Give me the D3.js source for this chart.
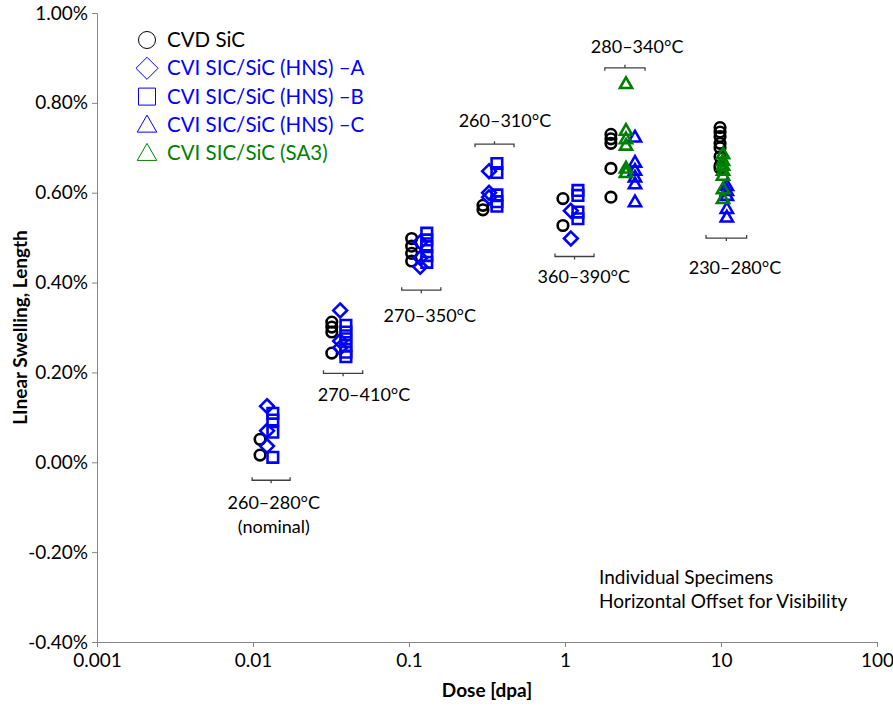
<!DOCTYPE html>
<html>
<head>
<meta charset="utf-8">
<script src="https://cdn.jsdelivr.net/npm/d3@7"></script>
<style>
  body { margin: 0; background: #fff; }
  text { font-family: Lato, "Open Sans", sans-serif; }
</style>
</head>
<body>
<div id="chart"></div>
<script>
// values, swelling in %
var cvdSiC = [
  [0.0111, 0.051], [0.0111, 0.016],
  [0.032, 0.312], [0.032, 0.301], [0.032, 0.290], [0.032, 0.243],
  [0.104, 0.498], [0.104, 0.481], [0.104, 0.465], [0.104, 0.448],
  [0.298, 0.572], [0.298, 0.562],
  [0.97, 0.587], [0.97, 0.527],
  [1.97, 0.73], [1.97, 0.72], [1.97, 0.71], [1.97, 0.654], [1.97, 0.59],
  [9.86, 0.745], [9.86, 0.735], [9.86, 0.725], [9.86, 0.71], [9.86, 0.70], [9.86, 0.68], [9.86, 0.66], [9.86, 0.655]
];
var hnsA = [
  [0.0123, 0.125], [0.0123, 0.07], [0.0123, 0.036],
  [0.0362, 0.338], [0.0362, 0.27], [0.0362, 0.255],
  [0.118, 0.49], [0.118, 0.455], [0.118, 0.435],
  [0.326, 0.648], [0.326, 0.60], [0.326, 0.59],
  [1.09, 0.56], [1.09, 0.498]
];
var hnsB = [
  [0.0134, 0.109], [0.0134, 0.094], [0.0134, 0.067], [0.0134, 0.011],
  [0.0394, 0.305], [0.0394, 0.29], [0.0394, 0.275], [0.0394, 0.26], [0.0394, 0.245], [0.0394, 0.235],
  [0.130, 0.51], [0.130, 0.495], [0.130, 0.48], [0.130, 0.46], [0.130, 0.445],
  [0.366, 0.665], [0.366, 0.645], [0.366, 0.595], [0.366, 0.58], [0.366, 0.57],
  [1.21, 0.605], [1.21, 0.594], [1.21, 0.557], [1.21, 0.542]
];
var hnsC = [
  [2.81, 0.724], [2.81, 0.668], [2.81, 0.65], [2.81, 0.635], [2.81, 0.62], [2.81, 0.58],
  [10.9, 0.616], [10.9, 0.605], [10.9, 0.594], [10.9, 0.565], [10.9, 0.546]
];
var sa3 = [
  [2.46, 0.843], [2.46, 0.739], [2.46, 0.72], [2.46, 0.706], [2.46, 0.655], [2.46, 0.645],
  [10.3, 0.687], [10.3, 0.672], [10.3, 0.661], [10.3, 0.65], [10.3, 0.639], [10.3, 0.609], [10.3, 0.587]
];

// temperature brackets: dose from, dose to, swelling, side of the ticks
var brackets = [
  [0.00987, 0.0173, -0.04, "below"],
  [0.0283, 0.0505, 0.198, "below"],
  [0.0898, 0.160, 0.383, "below"],
  [0.265, 0.471, 0.708, "above"],
  [0.863, 1.535, 0.458, "below"],
  [1.80, 3.26, 0.878, "above"],
  [8.02, 14.6, 0.499, "below"]
];
var tempLabels = [
  [0.0136, -0.105, "260–280°C"],
  [0.0136, -0.158, "(nominal)"],
  [0.0515, 0.136, "270–410°C"],
  [0.136, 0.312, "270–350°C"],
  [0.412, 0.746, "260–310°C"],
  [1.32, 0.398, "360–390°C"],
  [2.90, 0.910, "280–340°C"],
  [12.3, 0.418, "230–280°C"]
];

var xTicks = [0.001, 0.01, 0.1, 1, 10, 100];
var xTickLabels = ["0.001", "0.01", "0.1", "1", "10", "100"];
var yTicks = [-0.4, -0.2, 0, 0.2, 0.4, 0.6, 0.8, 1.0];

var legendNames = ["CVD SiC", "CVI SIC/SiC (HNS) \u2013A", "CVI SIC/SiC (HNS) \u2013B",
  "CVI SIC/SiC (HNS) \u2013C", "CVI SIC/SiC (SA3)"];

var blue = "#0000ff";
var green = "#008000";

var series = [
  { data: cvdSiC, shape: "circle", color: "#000" },
  { data: hnsA, shape: "diamond", color: blue },
  { data: hnsB, shape: "square", color: blue },
  { data: hnsC, shape: "triangle", color: blue },
  { data: sa3, shape: "triangle", color: green }
];

var w = 893, h = 708;
var margin = { top: 13, right: 16, bottom: 66, left: 97 };

var svg = d3.select("#chart").append("svg")
  .attr("width", w)
  .attr("height", h);

var x = d3.scaleLog()
  .domain([0.001, 100])
  .range([margin.left, w - margin.right]);

var y = d3.scaleLinear()
  .domain([-0.4, 1.0])
  .range([h - margin.bottom, margin.top]);

// axes
var xAxis = d3.axisBottom(x)
  .tickValues(xTicks)
  .tickSize(5)
  .tickFormat(function (d, i) { return xTickLabels[i]; });

var yAxis = d3.axisLeft(y)
  .tickValues(yTicks)
  .tickSize(5)
  .tickFormat(function (d) { return d.toFixed(2) + "%"; });

var gx = svg.append("g")
  .attr("transform", "translate(0," + (h - margin.bottom) + ")")
  .call(xAxis);
var gy = svg.append("g")
  .attr("transform", "translate(" + margin.left + ",0)")
  .call(yAxis);

[gx, gy].forEach(function (g) {
  g.selectAll("path, line").attr("stroke", "#868686").attr("stroke-width", 1);
  g.selectAll("text").attr("fill", "#000").style("font-size", "19px")
    .style("font-family", "Lato, sans-serif");
});
gx.selectAll("text").attr("y", 12).attr("dy", "0.71em");
gy.selectAll("text").attr("x", -9);

svg.append("text")
  .attr("x", (margin.left + w - margin.right) / 2)
  .attr("y", 697)
  .attr("text-anchor", "middle")
  .style("font-size", "19px")
  .style("font-weight", "bold")
  .text("Dose [dpa]");

svg.append("text")
  .attr("transform", "translate(27," + ((margin.top + h - margin.bottom) / 2) + ") rotate(-90)")
  .attr("text-anchor", "middle")
  .style("font-size", "19px")
  .style("font-weight", "bold")
  .text("LInear Swelling, Length");

// marker shapes
function symbolPath(shape, s) {
  if (shape === "circle") return d3.symbol(d3.symbolCircle, Math.PI * s * s)();
  if (shape === "square") return "M" + (-s) + "," + (-s) + "H" + s + "V" + s + "H" + (-s) + "Z";
  if (shape === "diamond") return "M0," + (-s * 1.3) + "L" + (s * 1.3) + ",0L0," + (s * 1.3) + "L" + (-s * 1.3) + ",0Z";
  // triangle
  return "M0," + (-s * 1.15) + "L" + (s * 1.15) + "," + (s * 0.85) + "L" + (-s * 1.15) + "," + (s * 0.85) + "Z";
}

// brackets
brackets.forEach(function (b) {
  var x1 = x(b[0]), x2 = x(b[1]), yy = y(b[2]);
  var t = b[3] === "below" ? -3 : 3;
  var xm = (x1 + x2) / 2;
  svg.append("path")
    .attr("d", "M" + x1 + "," + (yy + t) + "V" + yy + "H" + x2 + "V" + (yy + t) +
      "M" + xm + "," + yy + "V" + (yy - t))
    .attr("fill", "none")
    .attr("stroke", "#404040")
    .attr("stroke-width", 1.3);
});

svg.selectAll(".tlabel")
  .data(tempLabels)
  .enter()
  .append("text")
  .attr("class", "tlabel")
  .attr("x", function (d) { return x(d[0]); })
  .attr("y", function (d) { return y(d[1]); })
  .attr("text-anchor", "middle")
  .style("font-size", "18px")
  .text(function (d) { return d[2]; });

// data points
series.forEach(function (s) {
  svg.append("g").selectAll("path")
    .data(s.data)
    .enter()
    .append("path")
    .attr("transform", function (d) { return "translate(" + x(d[0]) + "," + y(d[1]) + ")"; })
    .attr("d", symbolPath(s.shape, 5.3))
    .attr("fill", "none")
    .attr("stroke", s.color)
    .attr("stroke-width", 2.6);
});

// legend
var legend = svg.selectAll(".legend")
  .data(series)
  .enter()
  .append("g")
  .attr("class", "legend")
  .attr("transform", function (d, i) { return "translate(147," + (40 + i * 28.3) + ")"; });

legend.append("path")
  .attr("d", function (d) { return symbolPath(d.shape, 8.5); })
  .attr("fill", "none")
  .attr("stroke", function (d) { return d.color; })
  .attr("stroke-width", 1);

legend.append("text")
  .attr("x", 20)
  .attr("dy", "0.35em")
  .style("font-size", "20.5px")
  .attr("fill", function (d) { return d.color; })
  .text(function (d, i) { return legendNames[i]; });

// note
svg.selectAll(".note")
  .data(["Individual Specimens", "Horizontal Offset for Visibility"])
  .enter()
  .append("text")
  .attr("class", "note")
  .attr("x", 599)
  .attr("y", function (d, i) { return 584 + i * 24; })
  .style("font-size", "19px")
  .text(function (d) { return d; });
</script>
</body>
</html>
